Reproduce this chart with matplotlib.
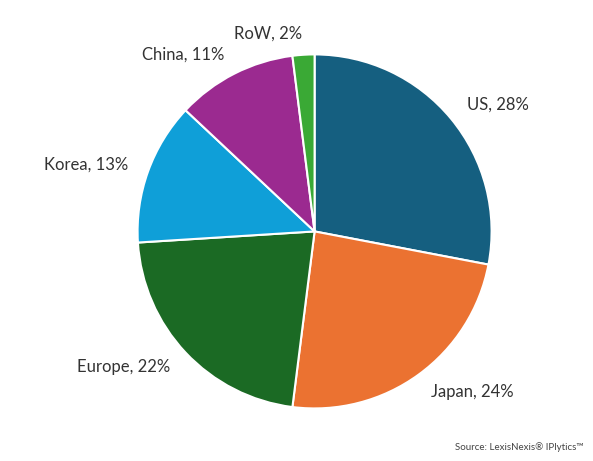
import matplotlib.pyplot as plt

plt.rcParams['font.family'] = ['Lato', 'DejaVu Sans']

regions = ['US', 'Japan', 'Europe', 'Korea', 'China', 'RoW']
shares = [28, 24, 22, 13, 11, 2]
colors = ['#155f80', '#eb7231', '#1b6a24', '#0f9fd8', '#9b2a90', '#3aa935']

fig = plt.figure(figsize=(5.93, 4.61), dpi=100)
ax = fig.add_axes([0.232, 0.114, 0.597, 0.768])

labels = [f'{r}, {s}%' for r, s in zip(regions, shares)]
wedges, texts = ax.pie(shares, colors=colors, startangle=90, counterclock=False,
                       labels=labels, labeldistance=1.12,
                       wedgeprops=dict(edgecolor='white', linewidth=1.5),
                       textprops=dict(fontsize=12, color='#333333'))
for t in texts:
    t.set_clip_on(False)
ax.set_xlim(-1, 1)
ax.set_ylim(-1, 1)
ax.set_aspect('equal')

fig.text(0.985, 0.02, 'Source: LexisNexis® IPlytics™', ha='right', va='bottom',
         fontsize=7, color='#444444')

fig.savefig('out.png', dpi=100)
